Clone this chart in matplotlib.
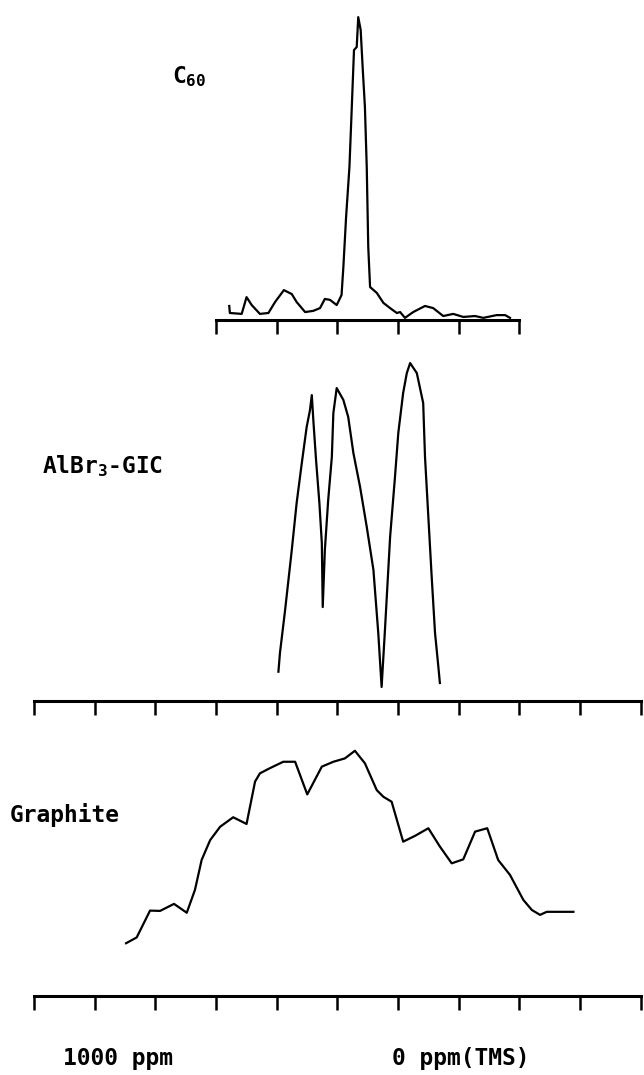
import matplotlib
matplotlib.use("Agg")
import matplotlib.pyplot as plt

plt.rcParams['font.family'] = ['DejaVu Sans Mono', 'DejaVu Sans']
plt.rcParams['font.weight'] = 'bold'
plt.rcParams['mathtext.fontset'] = 'custom'
plt.rcParams['mathtext.rm'] = 'DejaVu Sans Mono:bold'
plt.rcParams['mathtext.default'] = 'rm'

# chemical shift (ppm) and intensity (arb. units, 0 = baseline)
c60_ppm = [556, 554, 515, 499, 482, 455, 427, 405, 376, 350, 334, 306, 279, 257,
           241, 224, 202, 186, 180, 171, 160, 153, 145, 136, 131, 123, 116, 109,
           103, 98, 92, 70, 48, 26, 4, -7, -23, -50, -89, -116, -149, -182,
           -215, -254, -281, -325, -353, -369]
c60_int = [4.6, 2.3, 2.0, 7.5, 4.9, 2.0, 2.3, 5.9, 9.8, 8.5, 5.9, 2.6, 3.0, 3.9,
           6.9, 6.6, 4.9, 8.2, 17.4, 33.8, 50.2, 67.9, 88.5, 89.5, 99.3, 95.1,
           82.0, 69.8, 50.2, 23.9, 10.8, 8.9, 5.6, 3.9, 2.3, 2.6, 0.7, 2.6, 4.6,
           3.9, 1.3, 2.0, 1.0, 1.3, 0.7, 1.6, 1.6, 0.7]

gic_ppm = [394, 389, 372, 350, 334, 317, 301, 290, 284, 279, 270, 259, 251, 248,
           241, 230, 218, 213, 202, 180, 164, 147, 125, 103, 81, 65, 54, 43, 26,
           10, -1, -17, -29, -40, -62, -83, -89, -100, -111, -122, -133, -138]
gic_int = [9.5, 15.6, 29.7, 49.4, 64.8, 77.9, 89.7, 95.3, 100.2, 92.0, 78.9, 64.8,
           51.7, 30.7, 49.4, 65.8, 79.9, 94.3, 102.5, 98.6, 93.0, 81.2, 70.1,
           57.0, 42.9, 22.2, 4.5, 23.2, 53.7, 73.3, 87.8, 100.9, 107.4, 110.7,
           107.4, 97.6, 79.9, 60.2, 40.6, 22.2, 11.1, 5.8]

gra_ppm = [896, 861, 817, 784, 738, 696, 669, 647, 619, 586, 543, 499, 471, 455,
           422, 378, 339, 299, 251, 213, 175, 142, 109, 70, 48, 21, -17, -56,
           -100, -138, -177, -215, -254, -294, -330, -369, -413, -441, -468,
           -490, -578]
gra_int = [17.3, 19.2, 28.0, 27.9, 30.2, 27.3, 34.8, 44.6, 51.1, 55.5, 58.6, 56.4,
           70.3, 73.0, 74.7, 76.8, 76.8, 66.1, 75.2, 76.8, 77.9, 80.4, 76.3, 67.5,
           65.3, 63.7, 50.6, 52.5, 55.0, 49.0, 43.5, 44.8, 53.9, 55.0, 44.6, 39.7,
           31.5, 28.2, 26.6, 27.6, 27.6]

short_ticks = [600, 400, 200, 0, -200, -400]
long_ticks = [1200, 1000, 800, 600, 400, 200, 0, -200, -400, -600, -800]

W, H = 644, 1075
PX_PER_PPM = 0.3035
ZERO_PX = 398
PX_PER_UNIT = 3.05


def px(ppm):
    return ZERO_PX - PX_PER_PPM * ppm


fig = plt.figure(figsize=(W / 100, H / 100), dpi=100)


def panel(ppm_hi, ppm_lo, base_px, top_units, ppm, inten, ticks):
    x0, x1 = px(ppm_hi), px(ppm_lo)
    h = top_units * PX_PER_UNIT
    ax = fig.add_axes([x0 / W, 1 - base_px / H, (x1 - x0) / W, h / H])
    ax.plot(ppm, inten, color='black', lw=1.6, clip_on=False)
    ax.set_xlim(ppm_hi, ppm_lo)
    ax.set_ylim(0, top_units)
    for s in ['top', 'left', 'right']:
        ax.spines[s].set_visible(False)
    ax.spines['bottom'].set_linewidth(2.2)
    ax.set_yticks([])
    ax.set_xticks(ticks)
    ax.set_xticklabels([])
    ax.tick_params(axis='x', direction='out', length=10, width=1.8)
    ax.patch.set_alpha(0)
    return ax


panel(600, -400, 320, 100, c60_ppm, c60_int, short_ticks)
panel(1200, -800, 700.7, 112, gic_ppm, gic_int, long_ticks)
panel(1200, -800, 996, 90, gra_ppm, gra_int, long_ticks)

fs = 16.5
fig.text(172 / W, 1 - 77 / H, r'C$_{60}$', fontsize=fs, va='center', ha='left')
fig.text(42 / W, 1 - 466 / H, r'AlBr$_3$-GIC', fontsize=fs, va='center', ha='left')
fig.text(10 / W, 1 - 815 / H, 'Graphite', fontsize=fs, va='center', ha='left')
fig.text(63 / W, 1 - 1058 / H, '1000 ppm', fontsize=fs, va='center', ha='left')
fig.text(392 / W, 1 - 1059 / H, '0 ppm(TMS)', fontsize=fs, va='center', ha='left')

fig.savefig('out.png', dpi=100, facecolor='white')
